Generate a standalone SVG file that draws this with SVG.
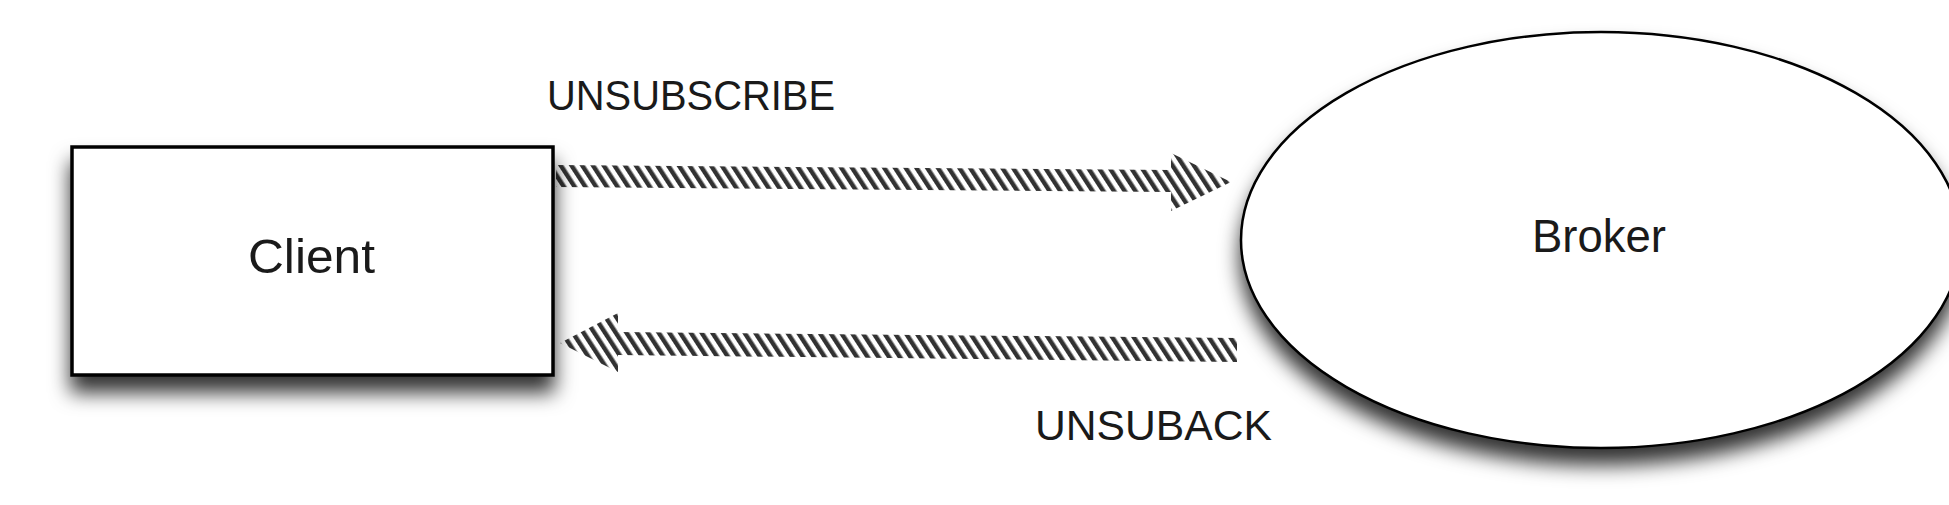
<svg xmlns="http://www.w3.org/2000/svg" width="1949" height="505" viewBox="0 0 1949 505">
  <style>
    .label { font-family: "Liberation Sans", Arial, sans-serif; fill: #1a1a1a; }
    .node-shape { fill: #ffffff; stroke: #000000; }
    .arrow { fill: url(#hatch); }
  </style>
  <defs>
    <filter id="shadow" x="-15%" y="-25%" width="130%" height="160%">
      <feDropShadow dx="0" dy="16" stdDeviation="10" flood-color="#000000" flood-opacity="0.8"/>
    </filter>
    <filter id="soft" x="-5%" y="-20%" width="110%" height="140%">
      <feGaussianBlur stdDeviation="0.6"/>
    </filter>
    <pattern id="hatch" patternUnits="userSpaceOnUse" width="9" height="20" patternTransform="rotate(-33)">
      <rect x="0" y="0" width="9" height="20" fill="#ffffff"/>
      <rect x="0" y="0" width="4.5" height="20" fill="#333333"/>
    </pattern>
  </defs>
  <rect width="1949" height="505" fill="#ffffff"/>

  <g id="connectors">
    <g id="unsubscribe-arrow">
      <polygon class="arrow" filter="url(#soft)" points="556,165 1171,170 1171,153 1231,182 1171,211 1171,192 556,187"/>
      <text class="label" x="547" y="110" font-size="42" textLength="288" lengthAdjust="spacingAndGlyphs">UNSUBSCRIBE</text>
    </g>
    <g id="unsuback-arrow">
      <polygon class="arrow" filter="url(#soft)" points="560,343 618,313 618,332 1237,338 1237,362 618,355 618,372"/>
      <text class="label" x="1035" y="440" font-size="42" textLength="237" lengthAdjust="spacingAndGlyphs">UNSUBACK</text>
    </g>
  </g>

  <g id="client">
    <rect class="node-shape" x="72" y="147" width="481" height="228" stroke-width="3.5" filter="url(#shadow)"/>
    <text class="label" x="311.5" y="273" font-size="48" text-anchor="middle" textLength="127" lengthAdjust="spacingAndGlyphs">Client</text>
  </g>

  <g id="broker">
    <ellipse class="node-shape" cx="1601" cy="240" rx="360" ry="208" stroke-width="2.5" filter="url(#shadow)"/>
    <text class="label" x="1599" y="252" font-size="46" text-anchor="middle" textLength="134" lengthAdjust="spacingAndGlyphs">Broker</text>
  </g>
</svg>
